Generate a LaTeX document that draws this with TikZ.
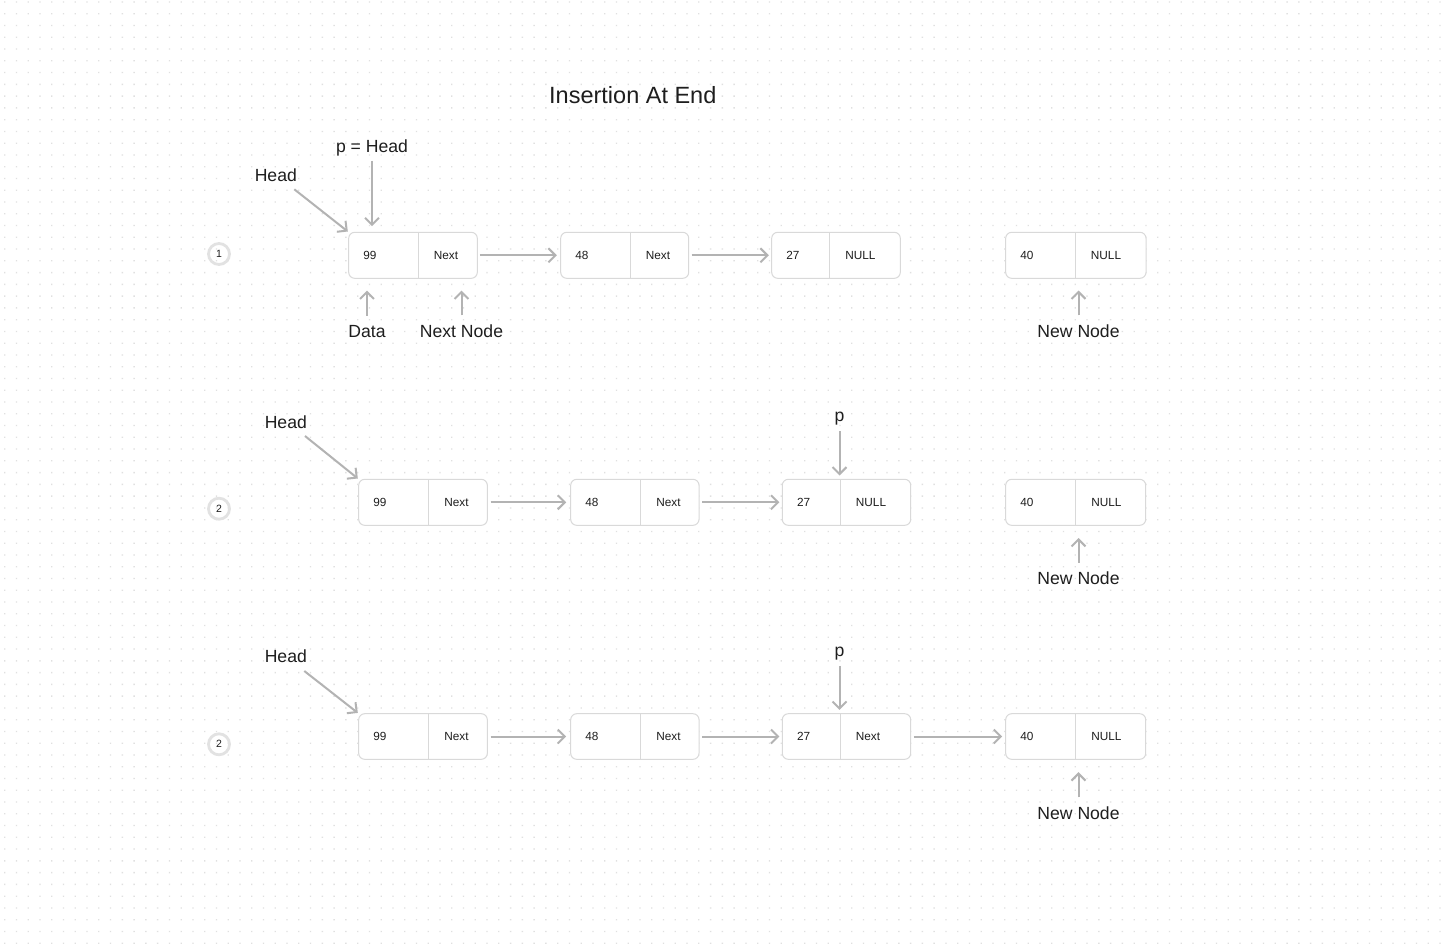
\documentclass[tikz,border=0pt]{standalone}
\usepackage{fontspec}
\setmainfont{Liberation Sans}
\usetikzlibrary{arrows.meta,fit,calc}
\definecolor{ink}{HTML}{1E1E1E}
\definecolor{boxline}{HTML}{D9D9D9}
\definecolor{arrowc}{HTML}{B3B3B3}
\definecolor{dotc}{HTML}{E0E0E0}
\definecolor{ringc}{HTML}{E2E2E2}
\tikzset{
  lbox/.style={draw=boxline, line width=1pt, rounded corners=6pt, fill=white, inner sep=0pt},
  cellline/.style={draw=boxline, line width=1pt},
  celltxt/.style={font=\fontsize{11.8}{14}\selectfont, text=ink, anchor=west, inner sep=0pt},
  lbl/.style={font=\fontsize{17.6}{21}\selectfont, text=ink, inner sep=0pt, anchor=base},
  ttl/.style={font=\fontsize{23.5}{28}\selectfont, text=ink, inner sep=0pt, anchor=base},
  link/.style={draw=arrowc, line width=2pt, -{Straight Barb[length=7pt,width=14pt]}},
  ring/.style={circle, draw=ringc, line width=2.8pt, minimum size=21pt, inner sep=0pt,
               font=\fontsize{10.5}{12}\selectfont, text=ink},
}
% name, left, divider, right, top, bottom, data, next
\newcommand\llbox[8]{%
  \coordinate (#1-nw) at (#2,#5);
  \coordinate (#1-se) at (#4,#6);
  \node[lbox, fit=(#1-nw)(#1-se)] (#1) {};
  \draw[cellline] (#3,#5) -- (#3,#6);
  \node[celltxt] (#1-d) at ({#2+14.5},{(#5+#6)/2}) {#7};
  \node[celltxt] (#1-n) at ({#3+15.4},{(#5+#6)/2}) {#8};
}
\begin{document}
\begin{tikzpicture}[x=1pt,y=-1pt]
\useasboundingbox (0,0) rectangle (1443,951);
\fill[white] (0,0) rectangle (1443,951);
% dot grid
\foreach \j in {0,...,80} {
  \fill[dotc] \foreach \i in {0,...,122} {
    ({4.05+\i*11.765},{1.35+\j*11.765}) rectangle ++(1.3,1.3) };
}

% title
\node[ttl] (title) at (632.8,103.3) {Insertion At End};

% ---------- row 1 ----------
\node[ring] (c1) at (219,254) {1};
\llbox{r1b1}{348.7}{418.3}{477.3}{232.3}{278.3}{99}{Next}
\llbox{r1b2}{560.7}{630.3}{688.7}{232.3}{278.3}{48}{Next}
\llbox{r1b3}{771.7}{829.7}{900.3}{232.3}{278.3}{27}{NULL}
\llbox{r1b4}{1005.7}{1075.3}{1146}{232.3}{278.3}{40}{NULL}
\draw[link, shorten <=2pt, shorten >=3.4pt] (r1b1) -- (r1b2);
\draw[link, shorten <=2.3pt, shorten >=2.4pt] (r1b2) -- (r1b3);

\node[lbl] (r1head) at (275.8,181.7) {Head};
\coordinate (r1heads) at (294.3,189.3);
\draw[link, shorten >=0.5pt] (r1heads) -- (r1b1.north west);
\node[lbl] (r1p) at (372,152.7) {p = Head};
\draw[link, shorten <=4.3pt, shorten >=5.6pt] (r1p.south) -- (r1p.south |- r1b1.north);
\node[lbl] (r1data) at (367,337.3) {Data};
\draw[link, shorten <=9pt, shorten >=11.7pt] (r1data.north) -- (r1data.north |- r1b1.south);
\node[lbl] (r1nextn) at (461.5,337.3) {Next Node};
\draw[link, shorten <=9pt, shorten >=11.7pt] (r1nextn.north) -- (r1nextn.north |- r1b1.south);
\node[lbl] (r1new) at (1078.5,337.3) {New Node};
\draw[link, shorten <=9pt, shorten >=11.7pt] (r1new.north) -- (r1new.north |- r1b4.south);

% ---------- row 2 ----------
\node[ring] (c2) at (219,508.7) {2};
\llbox{r2b1}{358.7}{428.7}{487.3}{479.3}{525.3}{99}{Next}
\llbox{r2b2}{570.7}{640.7}{699}{479.3}{525.3}{48}{Next}
\llbox{r2b3}{782.3}{840.3}{910.7}{479.3}{525.3}{27}{NULL}
\llbox{r2b4}{1005.7}{1075.7}{1145.7}{479.3}{525.3}{40}{NULL}
\draw[link, shorten <=2.7pt, shorten >=4pt] (r2b1) -- (r2b2);
\draw[link, shorten <=2.7pt, shorten >=2.4pt] (r2b2) -- (r2b3);

\node[lbl] (r2head) at (285.8,428.3) {Head};
\coordinate (r2heads) at (305,436);
\draw[link, shorten >=0.5pt] (r2heads) -- (r2b1.north west);
\node[lbl] (r2p) at (839.5,421.3) {p};
\draw[link, shorten <=6pt, shorten >=3.3pt] (r2p.south) -- (r2p.south |- r2b3.north);
\node[lbl] (r2new) at (1078.5,584.8) {New Node};
\draw[link, shorten <=9pt, shorten >=12.2pt] (r2new.north) -- (r2new.north |- r2b4.south);

% ---------- row 3 ----------
\node[ring] (c3) at (219,744.3) {2};
\llbox{r3b1}{358.7}{428.7}{487.3}{713.7}{759.3}{99}{Next}
\llbox{r3b2}{570.7}{640.7}{699}{713.7}{759.3}{48}{Next}
\llbox{r3b3}{782.3}{840.3}{910.7}{713.7}{759.3}{27}{Next}
\llbox{r3b4}{1005.7}{1075.7}{1145.7}{713.7}{759.3}{40}{NULL}
\draw[link, shorten <=2.7pt, shorten >=4pt] (r3b1) -- (r3b2);
\draw[link, shorten <=2.7pt, shorten >=2.4pt] (r3b2) -- (r3b3);
\draw[link, shorten <=2.6pt, shorten >=3pt] (r3b3) -- (r3b4);

\node[lbl] (r3head) at (285.8,662.7) {Head};
\coordinate (r3heads) at (304.3,671);
\draw[link, shorten >=0.5pt] (r3heads) -- (r3b1.north west);
\node[lbl] (r3p) at (839.5,656) {p};
\draw[link, shorten <=6pt, shorten >=3.3pt] (r3p.south) -- (r3p.south |- r3b3.north);
\node[lbl] (r3new) at (1078.5,819.3) {New Node};
\draw[link, shorten <=9pt, shorten >=12.4pt] (r3new.north) -- (r3new.north |- r3b4.south);
\end{tikzpicture}
\end{document}
